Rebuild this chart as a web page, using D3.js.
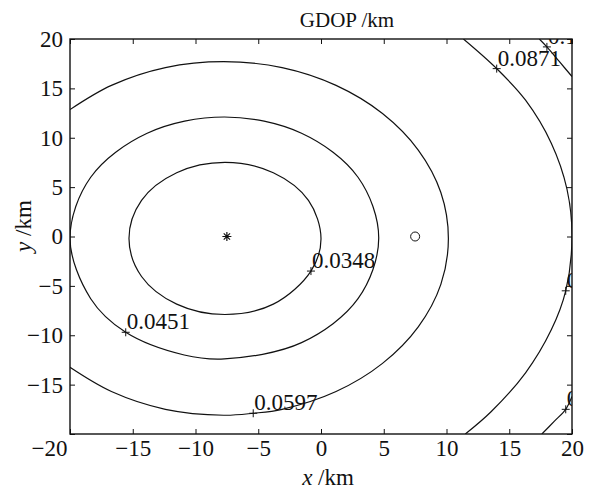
<!DOCTYPE html>
<html>
<head>
<meta charset="utf-8">
<script src="https://cdn.jsdelivr.net/npm/d3@7"></script>
<style>
  body { margin: 0; background: #fff; }
  svg { display: block; }
  svg text { font-family: "Liberation Serif", "Times New Roman", Times, "DejaVu Serif", serif; }
</style>
</head>
<body>
<div id="chart"></div>
<script>
// contour lines, in km
const contour1 = [[0, -0.2], [-1.0, 3.65], [-3.8, 6.45], [-7.65, 7.5], [-11.5, 6.45], [-14.3, 3.65], [-15.3, -0.2],
    [-14.3, -4.05], [-11.5, -6.85], [-7.65, -7.9], [-3.8, -6.85], [-0.8, -3.5]];
const contour2 = [[4.6, -0.15], [2.95, 6.0], [-1.55, 10.45], [-7.7, 12.1], [-13.85, 10.45], [-18.35, 6.0],
    [-20.0, -0.15], [-18.35, -6.3], [-15.56, -9.7], [-10.9, -12.0], [-7.7, -12.4], [-1.55, -10.75], [2.95, -6.3]];
const contour3 = [[-20, 12.85], [-16.7, 15.3], [-12.4, 17.1], [-7.75, 17.7], [-3.1, 17.1], [1.2, 15.3],
    [4.9, 12.45], [7.75, 8.75], [9.55, 4.45], [10.15, -0.2], [9.55, -4.85], [7.75, -9.15], [4.9, -12.85],
    [1.2, -15.7], [-3.1, -17.5], [-5.4, -17.9], [-7.75, -18.1], [-12.4, -17.5], [-16.7, -15.7], [-20, -13.25]];
const contour4 = [[11.35, 20], [14.0, 17.0], [16.3, 13.8], [18.35, 9.45], [19.6, 4.8], [20.0, 0],
    [19.5, -5.5], [18.35, -9.45], [16.3, -13.8], [13.55, -17.75], [11.5, -20]];
const contour5a = [[17.4, 20], [18.0, 19.2], [19.0, 17.7], [20, 16.2]];
const contour5b = [[20, -16.2], [19.5, -17.5], [18.6, -18.7], [17.6, -20]];

const contours = [
    {pts: contour1, closed: true},
    {pts: contour2, closed: true},
    {pts: contour3, closed: false},
    {pts: contour4, closed: false},
    {pts: contour5a, closed: false},
    {pts: contour5b, closed: false}
];

// contour labels: text and the "+" point
const labelText = ["0.0348", "0.0451", "0.0597", "0.0871", "0.0871", "0.116", "0.116"];
const labelX = [-0.8, -15.56, -5.4, 14.0, 19.5, 18.0, 19.5];
const labelY = [-3.5, -9.7, -17.9, 17.0, -5.5, 19.2, -17.5];

const xTicks = [-20, -15, -10, -5, 0, 5, 10, 15, 20];
const yTicks = [-20, -15, -10, -5, 0, 5, 10, 15, 20];

const stations = [{x: -7.5, y: 0, kind: "star"}, {x: 7.5, y: 0, kind: "circle"}];

const width = 590, height = 490;
const plotLeft = 70, plotRight = 572, plotTop = 39, plotBottom = 434;
const serif = "Liberation Serif, Times New Roman, Times, DejaVu Serif, serif";

const svg = d3.select("#chart").append("svg")
    .attr("width", width)
    .attr("height", height);

const x = d3.scaleLinear().domain([-20, 20]).range([plotLeft, plotRight]);
const y = d3.scaleLinear().domain([-20, 20]).range([plotBottom, plotTop]);

svg.append("defs").append("clipPath").attr("id", "plot-clip")
    .append("rect")
    .attr("x", plotLeft).attr("y", plotTop)
    .attr("width", plotRight - plotLeft).attr("height", plotBottom - plotTop);

const plot = svg.append("g").attr("clip-path", "url(#plot-clip)");

// contour lines
contours.forEach(c => {
    const line = d3.line()
        .x(d => x(d[0]))
        .y(d => y(d[1]))
        .curve(c.closed ? d3.curveCatmullRomClosed : d3.curveCatmullRom);
    plot.append("path")
        .attr("d", line(c.pts))
        .attr("fill", "none")
        .attr("stroke", "#111")
        .attr("stroke-width", 1.2);
});

// "+" markers and labels
labelText.forEach((t, i) => {
    const px = x(labelX[i]), py = y(labelY[i]);
    plot.append("path")
        .attr("d", `M${px - 4},${py}H${px + 4}M${px},${py - 4}V${py + 4}`)
        .attr("stroke", "#111")
        .attr("stroke-width", 1);
    plot.append("text")
        .attr("x", px + 1)
        .attr("y", py - 3)
        .attr("font-size", 23)
        .attr("fill", "#111")
        .text(t);
});

// station markers
stations.forEach(s => {
    const px = x(s.x), py = y(s.y);
    if (s.kind === "circle") {
        plot.append("circle")
            .attr("cx", px).attr("cy", py).attr("r", 4.5)
            .attr("fill", "none").attr("stroke", "#111").attr("stroke-width", 1);
    } else {
        const r = 4.5;
        const a = r * 0.7;
        plot.append("path")
            .attr("d", `M${px - r},${py}H${px + r}M${px},${py - r}V${py + r}` +
                `M${px - a},${py - a}L${px + a},${py + a}M${px - a},${py + a}L${px + a},${py - a}`)
            .attr("stroke", "#111").attr("stroke-width", 1.2);
    }
});

// axes, ticks point inward
const xAxis = svg.append("g")
    .attr("transform", `translate(0,${plotBottom})`)
    .call(d3.axisBottom(x).tickValues(xTicks).tickSizeInner(-5).tickSizeOuter(0).tickPadding(6));
svg.append("g")
    .attr("transform", `translate(0,${plotTop})`)
    .call(d3.axisTop(x).tickValues(xTicks).tickSizeInner(-5).tickSizeOuter(0).tickFormat(""));
const yAxis = svg.append("g")
    .attr("transform", `translate(${plotLeft},0)`)
    .call(d3.axisLeft(y).tickValues(yTicks).tickSizeInner(-5).tickSizeOuter(0).tickPadding(7));
svg.append("g")
    .attr("transform", `translate(${plotRight},0)`)
    .call(d3.axisRight(y).tickValues(yTicks).tickSizeInner(-5).tickSizeOuter(0).tickFormat(""));

svg.selectAll(".domain").remove();
svg.selectAll("g.tick").attr("font-family", serif);
svg.selectAll(".tick line").attr("stroke", "#111").attr("stroke-width", 1);
svg.selectAll(".tick text")
    .attr("font-size", 23)
    .attr("fill", "#111");

// the corner: x label -20 sits left of the axis, y label -20 is absent
xAxis.selectAll(".tick text").filter(d => d === -20)
    .attr("text-anchor", "end").attr("x", -3);
yAxis.selectAll(".tick text").filter(d => d === -20).remove();

svg.append("rect")
    .attr("x", plotLeft).attr("y", plotTop)
    .attr("width", plotRight - plotLeft).attr("height", plotBottom - plotTop)
    .attr("fill", "none")
    .attr("stroke", "#111")
    .attr("stroke-width", 1.4);

// title and axis labels
svg.append("text")
    .attr("x", 347).attr("y", 27)
    .attr("text-anchor", "middle")
    .attr("font-size", 21)
    .attr("fill", "#111")
    .text("GDOP /km");

const xl = svg.append("text")
    .attr("x", 328).attr("y", 485)
    .attr("text-anchor", "middle")
    .attr("font-size", 23)
    .attr("fill", "#111");
xl.append("tspan").attr("font-style", "italic").text("x");
xl.append("tspan").text(" /km");

const yl = svg.append("text")
    .attr("transform", "translate(31,226) rotate(-90)")
    .attr("text-anchor", "middle")
    .attr("font-size", 23)
    .attr("fill", "#111");
yl.append("tspan").attr("font-style", "italic").text("y");
yl.append("tspan").text(" /km");
</script>
</body>
</html>
